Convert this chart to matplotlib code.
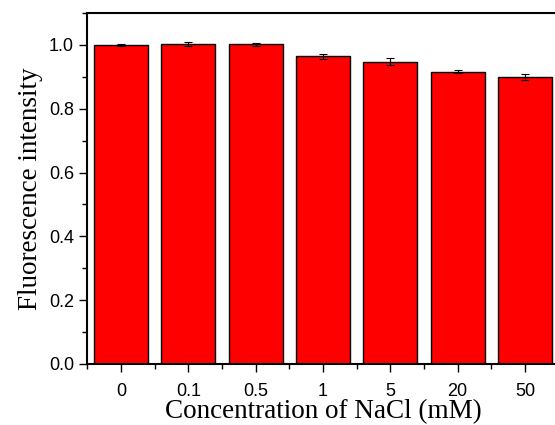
import matplotlib
matplotlib.use("Agg")
import matplotlib.pyplot as plt
from matplotlib.ticker import MultipleLocator, FixedLocator

categories = ["0", "0.1", "0.5", "1", "5", "20", "50"]
values = [1.000, 1.002, 1.002, 0.965, 0.948, 0.916, 0.900]
errors = [0.004, 0.006, 0.005, 0.008, 0.010, 0.005, 0.010]

fig = plt.figure(figsize=(5.55, 4.25), dpi=100)
W, H = 555, 425
left, right, top, bottom = 87.3, 558.7, 13, 364
ax = fig.add_axes([left / W, 1 - bottom / H, (right - left) / W, (bottom - top) / H])

x = list(range(len(categories)))
ax.bar(x, values, width=0.8, color="#ff0000", edgecolor="black", linewidth=1.0,
       yerr=errors, error_kw=dict(ecolor="black", elinewidth=0.8, capsize=3, capthick=0.8))

ax.set_xlim(-0.5, len(categories) - 0.5)
ax.set_ylim(0, 1.1)

ax.set_xticks(x)
ax.set_xticklabels(categories)
ax.xaxis.set_minor_locator(FixedLocator([i - 0.5 for i in range(len(categories) + 1)]))
ax.tick_params(axis="x", which="major", direction="out", length=6, width=1, pad=8)
ax.tick_params(axis="x", which="minor", direction="out", length=3.5, width=1)

ax.yaxis.set_major_locator(MultipleLocator(0.2))
ax.yaxis.set_minor_locator(MultipleLocator(0.1))
ax.tick_params(axis="y", which="major", direction="out", length=6, width=1)
ax.tick_params(axis="y", which="minor", direction="out", length=3.5, width=1)
ax.yaxis.set_major_formatter(matplotlib.ticker.FormatStrFormatter("%.1f"))

for lab in ax.get_xticklabels() + ax.get_yticklabels():
    lab.set_fontfamily("Liberation Sans")
    lab.set_fontsize(13)

for s in ax.spines.values():
    s.set_linewidth(1.5)

ax.set_xlabel("Concentration of NaCl (mM)", fontfamily="Liberation Serif", fontsize=19.5, labelpad=-1)
ax.set_ylabel("Fluorescence intensity", fontfamily="Liberation Serif", fontsize=19.5, labelpad=4)

fig.savefig("out.png", dpi=100)
